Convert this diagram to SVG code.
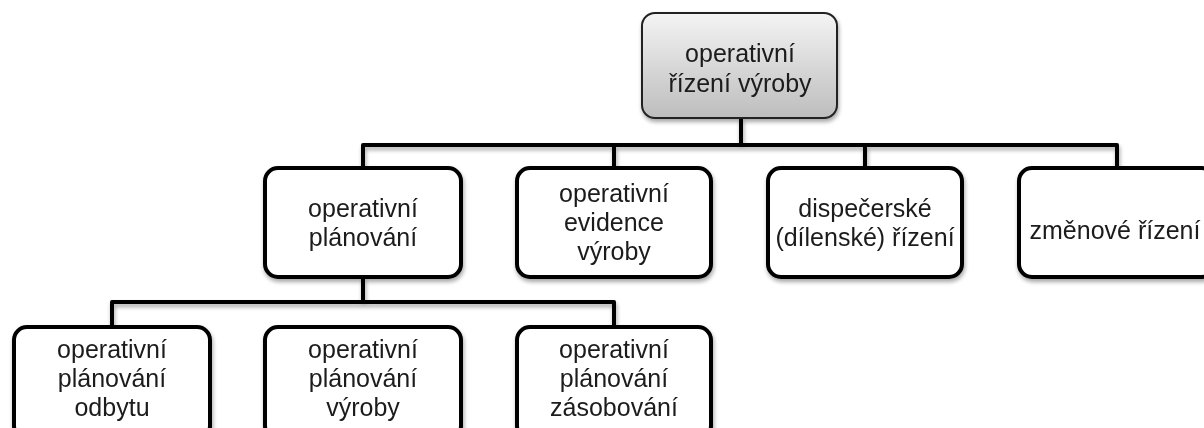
<svg xmlns="http://www.w3.org/2000/svg" width="1204" height="428" viewBox="0 0 1204 428">
  <defs>
    <linearGradient id="rootFill" x1="0" y1="0" x2="0" y2="1">
      <stop offset="0" stop-color="#f4f4f4"/>
      <stop offset="1" stop-color="#bdbdbd"/>
    </linearGradient>
    <filter id="shadow" x="-10%" y="-10%" width="130%" height="140%">
      <feGaussianBlur in="SourceAlpha" stdDeviation="2"/>
      <feOffset dx="1" dy="3" result="b"/>
      <feComponentTransfer><feFuncA type="linear" slope="0.35"/></feComponentTransfer>
      <feMerge><feMergeNode/><feMergeNode in="SourceGraphic"/></feMerge>
    </filter>
    <style>
      .box { fill: #ffffff; stroke: #000000; stroke-width: 4; }
      .root { fill: url(#rootFill); stroke: #222222; stroke-width: 2; }
      .link { fill: none; stroke: #000000; stroke-width: 4; stroke-linejoin: round; }
      text { font-family: "Liberation Sans", Arial, sans-serif; font-size: 25px; fill: #1a1a1a; text-anchor: middle; }
    </style>
  </defs>
  <rect width="1204" height="428" fill="#ffffff"/>

  <!-- tree connectors -->
  <g id="connectors" filter="url(#shadow)">
    <path class="link" d="M741,118 V145"/>
    <path class="link" d="M363,168 V145 H1117 V168"/>
    <path class="link" d="M614,168 V145"/>
    <path class="link" d="M865,168 V145"/>
    <path class="link" d="M363,278 V302"/>
    <path class="link" d="M112,327 V302 H614 V327"/>
  </g>

  <g id="root" filter="url(#shadow)">
    <rect class="root" x="642" y="13" width="195" height="105" rx="13"/>
    <text x="740" y="62">operativní</text>
    <text x="740" y="92">řízení výroby</text>
  </g>

  <g id="planovani" filter="url(#shadow)">
    <rect class="box" x="265" y="168" width="196" height="109" rx="13"/>
    <text x="363" y="217">operativní</text>
    <text x="363" y="246">plánování</text>
  </g>

  <g id="evidence" filter="url(#shadow)">
    <rect class="box" x="517" y="168" width="194" height="109" rx="13"/>
    <text x="614" y="202">operativní</text>
    <text x="614" y="231">evidence</text>
    <text x="614" y="260">výroby</text>
  </g>

  <g id="dispecerske" filter="url(#shadow)">
    <rect class="box" x="768" y="168" width="194" height="109" rx="13"/>
    <text x="865" y="217">dispečerské</text>
    <text x="865" y="246">(dílenské) řízení</text>
  </g>

  <g id="zmenove" filter="url(#shadow)">
    <rect class="box" x="1019" y="168" width="196" height="109" rx="13"/>
    <text x="1115" y="239">změnové řízení</text>
  </g>

  <g id="odbyt" filter="url(#shadow)">
    <rect class="box" x="14" y="327" width="196" height="112" rx="13"/>
    <text x="112" y="358">operativní</text>
    <text x="112" y="387">plánování</text>
    <text x="112" y="416">odbytu</text>
  </g>

  <g id="vyroba" filter="url(#shadow)">
    <rect class="box" x="265" y="327" width="196" height="112" rx="13"/>
    <text x="363" y="358">operativní</text>
    <text x="363" y="387">plánování</text>
    <text x="363" y="416">výroby</text>
  </g>

  <g id="zasobovani" filter="url(#shadow)">
    <rect class="box" x="517" y="327" width="194" height="112" rx="13"/>
    <text x="614" y="358">operativní</text>
    <text x="614" y="387">plánování</text>
    <text x="614" y="416">zásobování</text>
  </g>
</svg>
